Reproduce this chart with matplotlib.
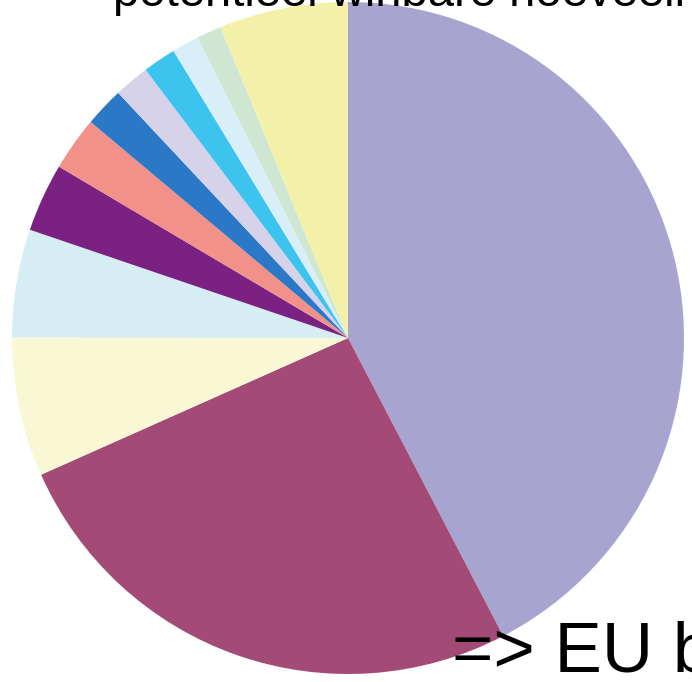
import matplotlib.pyplot as plt

# aandeel per sector (%), met de klok mee vanaf 12 uur
shares = [42.4, 26.0, 6.7, 5.2, 3.3, 2.6, 1.9, 1.7, 1.6, 1.3, 1.2, 6.2]
colors = ['#A8A4D0', '#A34A77', '#FAF7D5', '#D6EDF3', '#7A2181', '#F2918A',
          '#2A78C6', '#D6D2EA', '#3DC4EE', '#D8EEF8', '#CFE7D2', '#F3F1A9']

title_top = 'potentieel winbare hoeveelheid'
note_bottom = '=> EU b'

plt.rcParams['font.family'] = ['Liberation Sans', 'DejaVu Sans']

fig = plt.figure(figsize=(6.92, 6.82), dpi=100)
ax = fig.add_axes([0, 0, 1, 1])

ax.pie(shares, colors=colors, startangle=90, counterclock=False,
       center=(348, 344), radius=336, frame=True,
       wedgeprops={'linewidth': 0})

ax.set_xlim(0, 692)
ax.set_ylim(0, 682)
ax.set_aspect('equal')
ax.axis('off')

ax.text(113, 676, title_top, fontsize=34, va='baseline', ha='left', color='black')
ax.text(452, 10, note_bottom, fontsize=51, va='baseline', ha='left', color='black')

fig.savefig('out.png', dpi=100)
